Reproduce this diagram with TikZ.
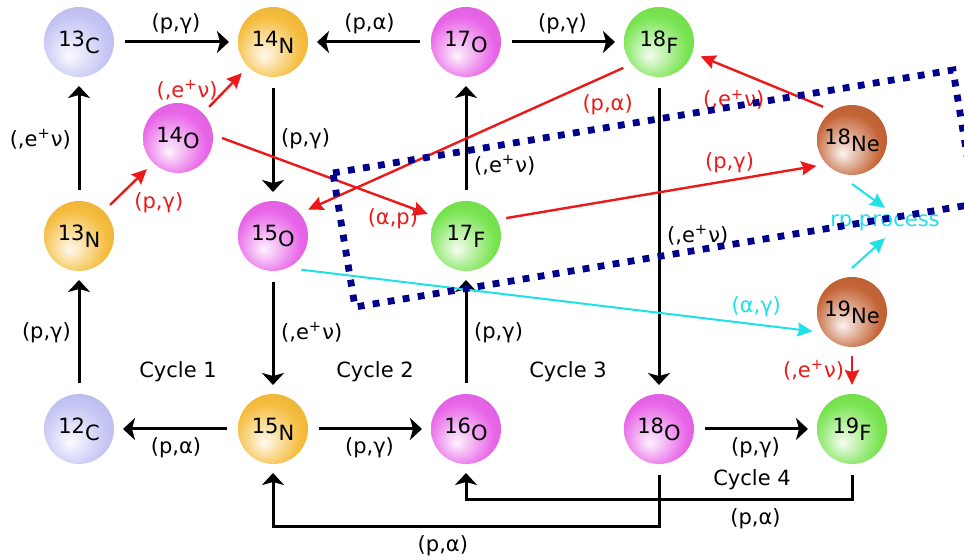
\documentclass[tikz,border=0pt]{standalone}
\usepackage{fontspec}
\setmainfont{DejaVu Sans}
\usepackage{tikz}
\usetikzlibrary{arrows.meta}
\usepackage{xcolor}

\definecolor{isoC}{RGB}{196,196,245}
\definecolor{isoN}{RGB}{245,188,60}
\definecolor{isoO}{RGB}{232,100,232}
\definecolor{isoF}{RGB}{120,228,80}
\definecolor{isoNe}{RGB}{196,100,55}
\definecolor{hotred}{RGB}{235,25,25}
\definecolor{rpcyan}{RGB}{30,225,230}
\definecolor{boxnavy}{RGB}{0,0,140}
\colorlet{nucball}{isoC}
\pgfdeclareradialshading[nucball]{nucshade}{\pgfpoint{-7bp}{-10bp}}{%
  color(0bp)=(nucball!8!white); color(7bp)=(nucball!35!white);
  color(24bp)=(nucball); color(36bp)=(nucball!94!black); color(50bp)=(nucball!94!black)}

\newcommand{\iso}[2]{#1\raisebox{-0.6ex}{#2}}
\newcommand{\epnu}{(,e\textsuperscript{+}ν)}

\begin{document}
\begin{tikzpicture}[x=0.5pt,y=-0.5pt,>={Stealth[width=11pt,length=6pt,inset=1.5pt]},
  font=\fontsize{10.5}{12.5}\selectfont,
  nuc/.style={circle,minimum size=35pt,inner sep=0pt,outer sep=4.5pt,
    /utils/exec={\colorlet{nucball}{#1}},shade,shading=nucshade},
  cno/.style={->,line width=1.5pt,shorten <=1pt},
  hot/.style={hotred,line width=1.2pt,-{Stealth[width=7pt,length=7.5pt,inset=1pt]}},
  brk/.style={rpcyan,line width=1pt,-{Stealth[width=7pt,length=7.5pt,inset=1pt]}}]
  \useasboundingbox (0,0) rectangle (964,560);

  % nuclei
  \node[nuc=isoC] (c13) at (79,42) {\iso{13}{C}};
  \node[nuc=isoN] (n14) at (273,42) {\iso{14}{N}};
  \node[nuc=isoO] (o17) at (466,42) {\iso{17}{O}};
  \node[nuc=isoF] (f18) at (659,42) {\iso{18}{F}};
  \node[nuc=isoO] (o14) at (178,138) {\iso{14}{O}};
  \node[nuc=isoNe] (ne18) at (852,140) {\iso{18}{Ne}};
  \node[nuc=isoN] (n13) at (79,236) {\iso{13}{N}};
  \node[nuc=isoO] (o15) at (273,236) {\iso{15}{O}};
  \node[nuc=isoF] (f17) at (466,236) {\iso{17}{F}};
  \node[nuc=isoNe] (ne19) at (852,312) {\iso{19}{Ne}};
  \node[nuc=isoC] (c12) at (79,429) {\iso{12}{C}};
  \node[nuc=isoN] (n15) at (273,429) {\iso{15}{N}};
  \node[nuc=isoO] (o16) at (466,429) {\iso{16}{O}};
  \node[nuc=isoO] (o18) at (659,429) {\iso{18}{O}};
  \node[nuc=isoF] (f19) at (852,429) {\iso{19}{F}};

  \node (cyc1) at (178,372) {Cycle 1};
  \node (cyc2) at (375,372) {Cycle 2};
  \node (cyc3) at (568,372) {Cycle 3};
  \node (cyc4) at (752,480) {Cycle 4};

  % CNO cycles
  \draw[cno] (c13) -- (n14) node[midway,above] {(p,γ)};
  \draw[cno] (o17) -- (n14) node[midway,above] {(p,α)};
  \draw[cno] (o17) -- (f18) node[midway,above] {(p,γ)};
  \draw[cno] (n13) -- (c13) node[midway,left] {\epnu};
  \draw[cno] (c12) -- (n13) node[midway,left] {(p,γ)};
  \draw[cno] (n14) -- (o15) node[midway,right] {(p,γ)};
  \draw[cno] (o15) -- (n15) node[midway,right] {\epnu};
  \draw[cno] (n15) -- (c12) node[midway,below] {(p,α)};
  \draw[cno] (n15) -- (o16) node[midway,below] {(p,γ)};
  \draw[cno] (o16) -- (f17) node[midway,right] {(p,γ)};
  \draw[cno] (f17) -- (o17) node[pos=0.25,right] {\epnu};
  \draw[cno] (f18) -- (o18) node[midway,right] {\epnu};
  \draw[cno] (o18) -- (f19) node[midway,below] {(p,γ)};
  \draw[cno] (o18) -- ++(0,98) -| node[pos=0.28,below] {(p,α)} (n15);
  \draw[cno] (f19) -- ++(0,71) -| node[pos=0.125,below] {(p,α)} (o16);

  % hot CNO
  \draw[hot] (n13.45) -- (o14.225) node[midway,below right=-1pt] {(p,γ)};
  \draw[hot] (o14.45) -- (n14.225) node[midway,left] {\epnu};
  \draw[hot] (o14.east) -- (f17.150) node[pos=0.83,below] {(α,p)};
  \draw[hot] (f18.216) -- (o15.37) node[pos=0.05,below=6pt] {(p,α)};
  \draw[hot] (f17.24) -- (ne18.216) node[pos=0.72,above] {(p,γ)};
  \draw[hot] (ne18.131) -- (f18.-19) node[pos=0.73,below=6pt] {\epnu};
  \draw[hot] (ne19) -- (f19) node[midway,left] {\epnu};

  % breakout
  \draw[brk] (o15.-50) -- (ne19.206) node[pos=0.89,above] {(α,γ)};
  \node[text=rpcyan] (rp) at (885,223) {rp process};
  \draw[brk] (ne18.south) -- (rp.north);
  \draw[brk] (ne19.north) -- (rp.south);

  \draw[boxnavy,line width=3.4pt,dash pattern=on 3.4pt off 4.2pt]
    (333,173) -- (953,70) -- (975,204) -- (355,307) -- cycle;
\end{tikzpicture}
\end{document}
